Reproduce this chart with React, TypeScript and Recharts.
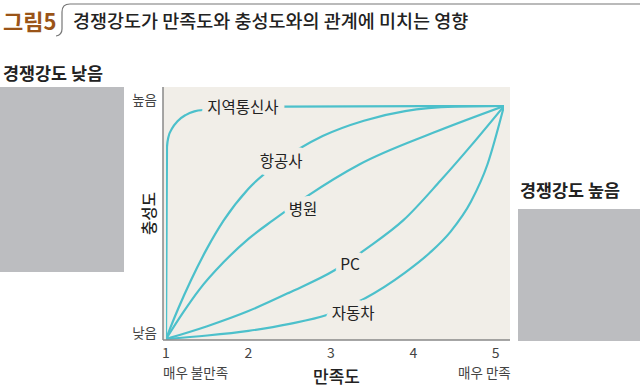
import React from 'react';
import { LineChart, Line, XAxis, YAxis, CartesianGrid, ReferenceDot, Label } from 'recharts';

// ---- data ----
const xTicks = [1, 2, 3, 4, 5];
const yTicks = [0, 1];
const yTickLabels = ['낮음', '높음'];
const xEndLabels = ['매우 불만족', '매우 만족'];

const telecom = [
  { x: 1, y: 0 }, { x: 1.006, y: 0.4 }, { x: 1.012, y: 0.824 }, { x: 1.028, y: 0.865 },
  { x: 1.073, y: 0.903 }, { x: 1.143, y: 0.936 }, { x: 1.237, y: 0.961 }, { x: 1.344, y: 0.977 },
  { x: 1.461, y: 0.983 }, { x: 2.42, y: 0.997 }, { x: 5.1, y: 1 },
];
const airline = [
  { x: 1, y: 0 }, { x: 1.05, y: 0.046 }, { x: 1.15, y: 0.132 }, { x: 1.3, y: 0.25 },
  { x: 1.5, y: 0.39 }, { x: 1.7, y: 0.509 }, { x: 2.0, y: 0.645 }, { x: 2.4, y: 0.765 },
  { x: 2.9, y: 0.871 }, { x: 3.4, y: 0.937 }, { x: 3.9, y: 0.978 }, { x: 4.5, y: 0.997 },
  { x: 5.1, y: 1 },
];
const hospital = [
  { x: 1, y: 0 }, { x: 1.2, y: 0.11 }, { x: 1.4, y: 0.21 }, { x: 1.7, y: 0.33 },
  { x: 2.0, y: 0.43 }, { x: 2.3, y: 0.51 }, { x: 2.7, y: 0.61 }, { x: 3.35, y: 0.75 },
  { x: 4.24, y: 0.885 }, { x: 5.1, y: 1 },
];
const pc = [
  { x: 1, y: 0 }, { x: 1.5, y: 0.055 }, { x: 2.0, y: 0.12 }, { x: 2.5, y: 0.2 },
  { x: 3.05, y: 0.296 }, { x: 3.44, y: 0.39 }, { x: 3.88, y: 0.51 }, { x: 4.33, y: 0.68 },
  { x: 4.7, y: 0.83 }, { x: 5.1, y: 1 },
];
const car = [
  { x: 1, y: 0 }, { x: 1.5, y: 0.015 }, { x: 2.0, y: 0.035 }, { x: 2.5, y: 0.065 },
  { x: 2.95, y: 0.103 }, { x: 3.4, y: 0.172 }, { x: 3.9, y: 0.285 }, { x: 4.2, y: 0.37 },
  { x: 4.45, y: 0.46 }, { x: 4.7, y: 0.59 }, { x: 4.9, y: 0.75 }, { x: 5.1, y: 1 },
];
const seriesList = [telecom, airline, hospital, pc, car];

const curveLabels = [
  { name: '지역통신사', x: 1.934, y: 0.999 },
  { name: '항공사', x: 2.396, y: 0.767 },
  { name: '병원', x: 2.663, y: 0.561 },
  { name: 'PC', x: 3.233, y: 0.326 },
  { name: '자동차', x: 3.269, y: 0.116 },
];

// ---- styles ----
const FONT = '"Noto Sans CJK KR", "Noto Sans", sans-serif';
const TEAL = '#4cc0cb';
const BEIGE = '#f1eee8';
const GRAY_BOX = '#bcbdc0';

const XTick = (props: any) => {
  const { x, y, payload, index } = props;
  return (
    <g>
      <text x={x} y={y + 12} textAnchor="middle" dominantBaseline="central" fontSize={14} fill="#444" fontFamily={FONT}>
        {payload.value}
      </text>
      {index === 0 && (
        <text x={x - 3} y={y + 32} textAnchor="start" dominantBaseline="central" fontSize={13.5} fill="#444" fontFamily={FONT}>
          {xEndLabels[0]}
        </text>
      )}
      {index === xTicks.length - 1 && (
        <text x={x + 15} y={y + 32} textAnchor="end" dominantBaseline="central" fontSize={13.5} fill="#444" fontFamily={FONT}>
          {xEndLabels[1]}
        </text>
      )}
    </g>
  );
};

const YTick = (props: any) => {
  const { x, y, payload } = props;
  const idx = yTicks.indexOf(payload.value);
  return (
    <text x={x - 6} y={y - 7} textAnchor="end" dominantBaseline="central" fontSize={13.5} fill="#444" fontFamily={FONT}>
      {yTickLabels[idx]}
    </text>
  );
};

const makeLabelShape = (name: string) => (props: any) => {
  const { cx, cy } = props;
  return (
    <text
      x={cx}
      y={cy}
      textAnchor="middle"
      dominantBaseline="central"
      fontSize={15.5}
      fill="#222"
      fontFamily={FONT}
      stroke={BEIGE}
      strokeWidth={12}
      strokeLinejoin="round"
      paintOrder="stroke"
    >
      {name}
    </text>
  );
};

export default function App() {
  return (
    <div style={{ position: 'absolute', left: 0, top: 0, width: 640, height: 391, background: '#fff', fontFamily: FONT, overflow: 'hidden' }}>
      {/* header */}
      <div style={{ position: 'absolute', left: 3, top: 7, height: 26, lineHeight: '26px', fontSize: 22, fontWeight: 700, color: '#9a5418' }}>그림5</div>
      <svg style={{ position: 'absolute', left: 0, top: 0 }} width={640} height={40}>
        <path d="M56 36 Q62 35 62 29 L62 12 Q62 4 70 4 L640 4" fill="none" stroke="#777" strokeWidth={1.2} />
      </svg>
      <div style={{ position: 'absolute', left: 73, top: 7, height: 26, lineHeight: '26px', fontSize: 18.5, fontWeight: 500, color: '#222' }}>
        경쟁강도가 만족도와 충성도와의 관계에 미치는 영향
      </div>

      {/* side panels */}
      <div style={{ position: 'absolute', left: 3, top: 60, height: 26, lineHeight: '26px', fontSize: 17.4, fontWeight: 700, color: '#222' }}>경쟁강도 낮음</div>
      <div style={{ position: 'absolute', left: 0, top: 87, width: 124, height: 185, background: GRAY_BOX }} />
      <div style={{ position: 'absolute', left: 520, top: 177, height: 26, lineHeight: '26px', fontSize: 17.4, fontWeight: 700, color: '#222' }}>경쟁강도 높음</div>
      <div style={{ position: 'absolute', left: 518, top: 209, width: 122, height: 132, background: GRAY_BOX }} />

      <div style={{ position: 'absolute', left: 0, top: 0 }}>
        <LineChart width={640} height={391} margin={{ top: 87, right: 130, bottom: 11, left: 123 }}>
          <CartesianGrid horizontal={false} vertical={false} fill={BEIGE} />
          <XAxis
            type="number"
            dataKey="x"
            domain={[1, 5.1]}
            ticks={xTicks}
            padding={{ left: 3, right: 6 }}
            height={40}
            tickSize={0}
            tickMargin={0}
            tickLine={false}
            axisLine={{ stroke: '#888', strokeWidth: 1.5 }}
            tick={<XTick />}
            interval={0}
            allowDataOverflow
          >
            <Label value="만족도" position="bottom" offset={-9} style={{ fontSize: 17, fill: '#222', fontFamily: FONT, fontWeight: 500 }} />
          </XAxis>
          <YAxis
            type="number"
            dataKey="y"
            domain={[0, 1]}
            ticks={yTicks}
            padding={{ top: 19, bottom: 1 }}
            width={40}
            tickSize={0}
            tickMargin={0}
            tickLine={false}
            axisLine={{ stroke: '#888', strokeWidth: 1.5 }}
            tick={<YTick />}
            interval={0}
          >
            <Label value="충성도" angle={-90} position="center" dx={6} style={{ fontSize: 15.5, fill: '#222', fontFamily: FONT, fontWeight: 500 }} />
          </YAxis>
          {seriesList.map((d, i) => (
            <Line
              key={i}
              data={d}
              dataKey="y"
              type="monotone"
              stroke={TEAL}
              strokeWidth={2.2}
              dot={false}
              activeDot={false}
              isAnimationActive={false}
            />
          ))}
          {curveLabels.map((l) => (
            <ReferenceDot key={l.name} x={l.x} y={l.y} r={0} shape={makeLabelShape(l.name)} />
          ))}
        </LineChart>
      </div>
    </div>
  );
}
